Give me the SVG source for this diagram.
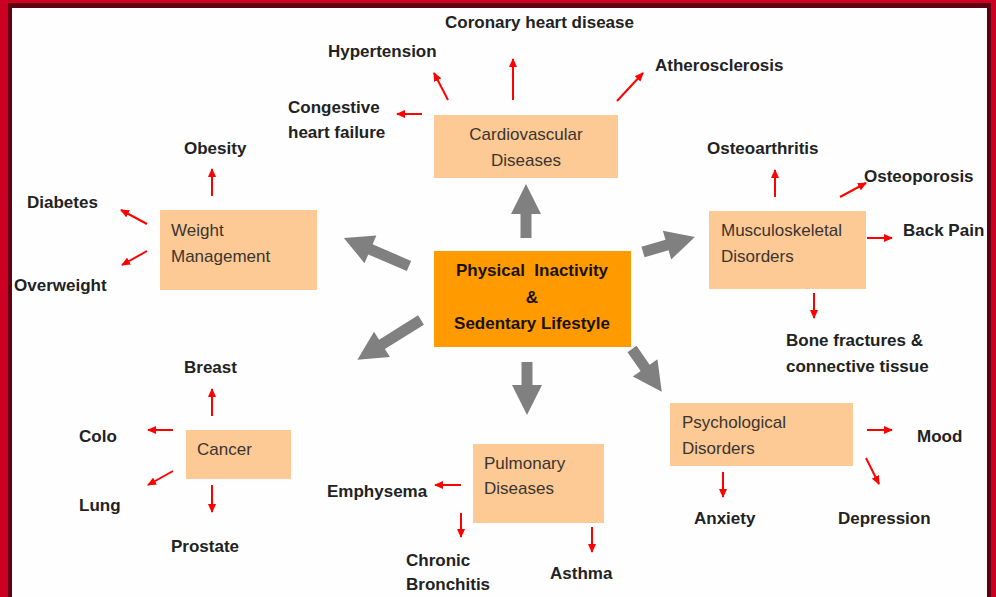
<svg xmlns="http://www.w3.org/2000/svg" width="996" height="597" viewBox="0 0 996 597">
<defs>
<style>
.lbl{font-family:"Liberation Sans",Arial,sans-serif;font-size:17px;font-weight:bold;fill:#222}
.box{fill:#fdc995}
.bt{font-family:"Liberation Sans",Arial,sans-serif;font-size:17px;fill:#3a3530}
.ct{font-family:"Liberation Sans",Arial,sans-serif;font-size:17px;font-weight:bold;fill:#1a1208;white-space:pre}
.red{stroke:#ff0000;stroke-width:2;fill:none;marker-end:url(#ra)}
.gray{fill:#808080}
</style>
<marker id="ra" markerUnits="userSpaceOnUse" markerWidth="9" markerHeight="8" refX="8" refY="4" orient="auto">
<path d="M0,0 L9,4 L0,8 z" fill="#ff0000"/>
</marker>
<polygon id="g54" points="0,-5.5 24,-5.5 24,-15 54,0 24,15 24,5.5 0,5.5"/>
</defs>
<rect x="0" y="0" width="996" height="597" fill="#cc0022"/>
<rect x="8" y="3" width="983" height="600" fill="#5e0012"/>
<rect x="12" y="8" width="975" height="600" fill="#fefefe"/>

<g id="connectors">
<g class="gray">
<polygon points="0,-5.5 24,-5.5 24,-15 54,0 24,15 24,5.5 0,5.5" transform="translate(526,238) rotate(-90)"/>
<polygon points="0,-5.5 42,-5.5 42,-15 71,0 42,15 42,5.5 0,5.5" transform="translate(409,266) rotate(-156.7)"/>
<polygon points="0,-5.5 25,-5.5 25,-15 54,0 25,15 25,5.5 0,5.5" transform="translate(643,252) rotate(-16.1)"/>
<polygon points="0,-5.5 46,-5.5 46,-15 75,0 46,15 46,5.5 0,5.5" transform="translate(421,320) rotate(148)"/>
<polygon points="0,-5.5 23,-5.5 23,-15 53,0 23,15 23,5.5 0,5.5" transform="translate(527,362) rotate(90)"/>
<polygon points="0,-5.5 23,-5.5 23,-15 52,0 23,15 23,5.5 0,5.5" transform="translate(632,349) rotate(55.1)"/>
</g>
<line class="red" x1="448" y1="100" x2="434" y2="73"/>
<line class="red" x1="513" y1="100" x2="513" y2="59"/>
<line class="red" x1="617" y1="101" x2="643" y2="73"/>
<line class="red" x1="422" y1="114" x2="397" y2="114"/>
<line class="red" x1="212" y1="196" x2="212" y2="169"/>
<line class="red" x1="147" y1="224" x2="121" y2="210"/>
<line class="red" x1="147" y1="251" x2="122" y2="265"/>
<line class="red" x1="775" y1="197" x2="775" y2="170"/>
<line class="red" x1="840" y1="197" x2="866" y2="183"/>
<line class="red" x1="867" y1="238" x2="892" y2="238"/>
<line class="red" x1="814" y1="293" x2="814" y2="318"/>
<line class="red" x1="212" y1="416" x2="212" y2="389"/>
<line class="red" x1="173" y1="430" x2="148" y2="430"/>
<line class="red" x1="173" y1="471" x2="148" y2="485"/>
<line class="red" x1="212" y1="485" x2="212" y2="512"/>
<line class="red" x1="461" y1="485" x2="435" y2="485"/>
<line class="red" x1="461" y1="513" x2="461" y2="537"/>
<line class="red" x1="592" y1="527" x2="592" y2="552"/>
<line class="red" x1="867" y1="430" x2="892" y2="430"/>
<line class="red" x1="866" y1="458" x2="879" y2="484"/>
<line class="red" x1="723" y1="472" x2="723" y2="497"/>
</g>

<g id="center">
<rect x="434" y="251" width="197" height="96" fill="#ff9a00"/>
<text class="ct" x="532" y="276" text-anchor="middle">Physical  Inactivity</text>
<text class="ct" x="532" y="303" text-anchor="middle">&amp;</text>
<text class="ct" x="532" y="329" text-anchor="middle">Sedentary Lifestyle</text>
</g>

<g id="cardio">
<rect class="box" x="434" y="115" width="184" height="63"/>
<text class="bt" x="526" y="140" text-anchor="middle">Cardiovascular</text>
<text class="bt" x="526" y="166" text-anchor="middle">Diseases</text>
</g>
<g id="weight">
<rect class="box" x="160" y="210" width="157" height="80"/>
<text class="bt" x="171" y="236">Weight</text>
<text class="bt" x="171" y="262">Management</text>
</g>
<g id="musculo">
<rect class="box" x="709" y="211" width="157" height="78"/>
<text class="bt" x="721" y="236">Musculoskeletal</text>
<text class="bt" x="721" y="262">Disorders</text>
</g>
<g id="cancer">
<rect class="box" x="186" y="430" width="105" height="49"/>
<text class="bt" x="197" y="455">Cancer</text>
</g>
<g id="pulmonary">
<rect class="box" x="473" y="444" width="131" height="79"/>
<text class="bt" x="484" y="469">Pulmonary</text>
<text class="bt" x="484" y="494">Diseases</text>
</g>
<g id="psych">
<rect class="box" x="670" y="403" width="183" height="63"/>
<text class="bt" x="682" y="428">Psychological</text>
<text class="bt" x="682" y="454">Disorders</text>
</g>

<g id="labels">
<text class="lbl" x="445" y="28">Coronary heart disease</text>
<text class="lbl" x="328" y="57">Hypertension</text>
<text class="lbl" x="655" y="71">Atherosclerosis</text>
<text class="lbl" x="288" y="113">Congestive</text>
<text class="lbl" x="288" y="138">heart failure</text>
<text class="lbl" x="184" y="154">Obesity</text>
<text class="lbl" x="27" y="208">Diabetes</text>
<text class="lbl" x="14" y="291">Overweight</text>
<text class="lbl" x="707" y="154">Osteoarthritis</text>
<text class="lbl" x="864" y="182">Osteoporosis</text>
<text class="lbl" x="903" y="236">Back Pain</text>
<text class="lbl" x="786" y="346">Bone fractures &amp;</text>
<text class="lbl" x="786" y="372">connective tissue</text>
<text class="lbl" x="184" y="373">Breast</text>
<text class="lbl" x="79" y="442">Colo</text>
<text class="lbl" x="79" y="511">Lung</text>
<text class="lbl" x="171" y="552">Prostate</text>
<text class="lbl" x="327" y="497">Emphysema</text>
<text class="lbl" x="406" y="566">Chronic</text>
<text class="lbl" x="406" y="590">Bronchitis</text>
<text class="lbl" x="550" y="579">Asthma</text>
<text class="lbl" x="917" y="442">Mood</text>
<text class="lbl" x="694" y="524">Anxiety</text>
<text class="lbl" x="838" y="524">Depression</text>
</g>
</svg>
